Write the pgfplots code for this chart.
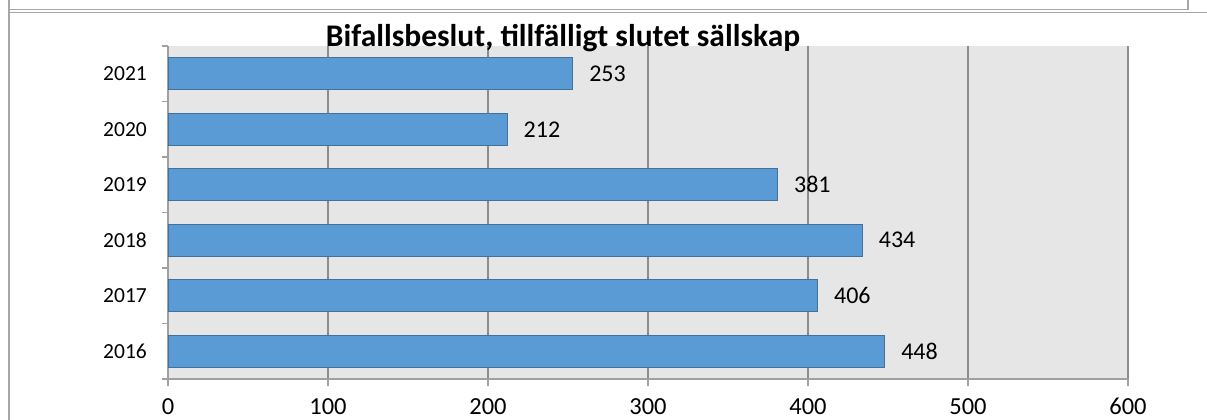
\documentclass[border=0pt]{standalone}
\usepackage{fontspec}
\setmainfont{Carlito}
\usepackage{pgfplots}
\pgfplotsset{compat=1.18}
\definecolor{barfill}{HTML}{5B9BD5}
\definecolor{barline}{HTML}{41719C}
\definecolor{plotbg}{HTML}{E6E6E6}
\definecolor{gridc}{HTML}{8C8C8C}
\definecolor{axisc}{HTML}{A0A0A0}
\definecolor{framec}{HTML}{A6A6A6}
\begin{document}
\begin{tikzpicture}[x=1pt,y=1pt]
\path[use as bounding box] (0,0) rectangle (1207,420);
\draw[framec, line width=1.2pt] (9,420) -- (9,0);
\draw[framec, line width=1.2pt] (9,410.5) -- (1188,410.5) -- (1188,420);
\draw[framec, line width=1.2pt] (9,407.5) -- (1207,407.5);
\begin{axis}[
  at={(168pt,41pt)}, anchor=south west,
  scale only axis, width=960pt, height=333pt,
  xmin=0, xmax=600, ymin=-0.5, ymax=5.5,
  xbar, bar width=32pt,
  /pgf/number format/assume math mode=true,
  axis background/.style={fill=plotbg},
  axis x line*=bottom, axis y line*=left,
  axis line style={draw=axisc, line width=1.6pt},
  xmajorgrids, major grid style={draw=gridc, line width=1.2pt},
  xtick={0,100,...,600},
  ytick={0,...,5},
  yticklabels={2016,2017,2018,2019,2020,2021},
  minor ytick={-0.5,0.5,...,5.5},
  tick align=outside,
  major tick length=7pt, minor tick length=6pt,
  every major y tick/.style={draw=none},
  every minor y tick/.style={draw=axisc, line width=1.2pt},
  every major x tick/.style={draw=axisc, line width=1.2pt},
  xticklabel style={font=\fontsize{24.5}{29}\selectfont, inner sep=0pt, anchor=north, yshift=-12pt},
  yticklabel style={font=\fontsize{21.5}{26}\selectfont, inner sep=0pt, anchor=east, xshift=-14pt},
  nodes near coords,
  every node near coord/.append style={anchor=west, inner sep=0pt, xshift=16pt, font=\fontsize{24}{28}\selectfont, text=black},
]
\addplot[fill=barfill, draw=barline, line width=1pt] coordinates {
  (448,0) (406,1) (434,2) (381,3) (212,4) (253,5)
};
\end{axis}
\node[font=\fontsize{31.5}{36}\selectfont\bfseries, anchor=base, inner sep=0pt] at (563,373) {Bifallsbeslut, tillfälligt slutet sällskap};
\end{tikzpicture}
\end{document}
